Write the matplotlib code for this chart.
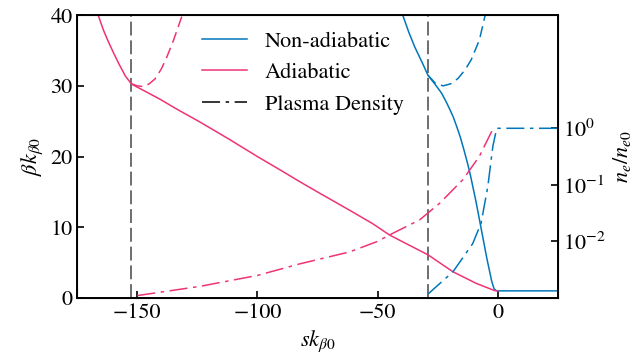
import matplotlib
matplotlib.use("Agg")
import matplotlib.pyplot as plt

plt.rcParams['font.family'] = ['STIXGeneral', 'DejaVu Serif']
plt.rcParams['mathtext.fontset'] = 'stix'
plt.rcParams['lines.scale_dashes'] = False

# colores
azul = '#0077BB'
rosa = '#EE3377'

# beta adiabatica (rosa, continua)
s_adiab = [-166.3, -164, -162, -159.8, -157.8, -155, -152.4, -146, -140.5, -133.5,
           -124, -112, -100, -90, -82.4, -74, -61.6, -52, -45, -37, -29, -18.6,
           -9, -4, -1.4, 0]
beta_adiab = [40, 37.8, 36.2, 34.6, 33.2, 31.4, 30.25, 29.1, 28.1, 26.7,
              24.9, 22.5, 20.0, 18.0, 16.45, 14.8, 12.4, 10.5, 8.9, 7.5, 6.1, 3.7,
              2.07, 1.4, 1.05, 1.0]

# beta en vacio tras el punto de entrada (rosa, discontinua)
s_vac_adiab = [-152.4, -150, -147.5, -145, -142.6, -140, -137.7, -135, -131.5]
beta_vac_adiab = [30.3, 30.0, 29.9, 30.3, 31.0, 32.4, 34.1, 36.4, 39.8]

# beta no adiabatica (azul, continua)
s_noad = [-39.5, -37, -34.5, -31, -29, -26, -23.4, -21.5, -20.1, -18.6, -17.2, -15.5,
          -14, -12.5, -11.3, -9, -7.2, -4.5, -2.5, -1.5, -0.7, 0, 25]
beta_noad = [40, 37.6, 35.5, 33.0, 31.5, 30.2, 29.0, 27.8, 26.8, 25.7, 24.4, 22.7,
             20.9, 19.0, 17.3, 13.6, 10.4, 5.6, 2.4, 1.3, 1.05, 1.0, 1.0]

# beta en vacio (azul, discontinua)
s_vac_noad = [-29, -26, -22.7, -19.5, -16.5, -13.5, -11, -7.6, -5.2]
beta_vac_noad = [31.5, 30.4, 30.0, 30.3, 31.05, 32.3, 33.7, 36.5, 40.0]

# densidad de plasma (eje derecho, log)
s_dens_adiab = [-150, -124, -100, -82.4, -61.7, -50, -45, -32.5, -24.2, -14.5, -7.6, -2.1, -1.5]
n_dens_adiab = [1.1e-3, 1.6e-3, 2.5e-3, 4.0e-3, 6.5e-3, 1.0e-2, 1.3e-2, 2.4e-2, 4.7e-2,
                0.123, 0.32, 0.95, 1.0]

s_dens_noad = [-29, -18.6, -10.4, -6.9, -4.1, -2.0, -0.4, 25]
n_dens_noad = [1.17e-3, 2.9e-3, 9.1e-3, 2.1e-2, 9.3e-2, 0.48, 1.0, 1.0]

# puntos de entrada
s_entrada = [-152.5, -29]

fig, ax = plt.subplots(figsize=(6.44, 3.62), dpi=100)
fig.subplots_adjust(left=0.12, right=0.866, bottom=0.177, top=0.958)

dashdot = (0, (13, 4, 2.5, 4))
discont = (0, (8, 4))

for s0 in s_entrada:
    ax.axvline(s0, color='#555555', lw=1.2, linestyle=(0, (10, 3.5)), zorder=1)

ax.plot(s_noad, beta_noad, color=azul, lw=1.1, label='Non-adiabatic')
ax.plot(s_adiab, beta_adiab, color=rosa, lw=1.1, label='Adiabatic')
ax.plot(s_vac_adiab, beta_vac_adiab, color=rosa, lw=1.1, linestyle=discont)
ax.plot(s_vac_noad, beta_vac_noad, color=azul, lw=1.1, linestyle=discont)
ax.plot([], [], color='black', lw=1.1, linestyle=dashdot, label='Plasma Density')

ax.set_xlim(-175, 25)
ax.set_ylim(0, 40)
ax.set_xticks([-150, -100, -50, 0])
ax.set_yticks([0, 10, 20, 30, 40])
ax.set_xlabel(r'$sk_{\beta 0}$', fontsize=16)
ax.set_ylabel(r'$\beta k_{\beta 0}$', fontsize=16)
ax.tick_params(direction='in', labelsize=16, width=1.2, length=5)
for sp in ax.spines.values():
    sp.set_linewidth(1.4)

ax2 = ax.twinx()
ax2.plot(s_dens_adiab, n_dens_adiab, color=rosa, lw=1.1, linestyle=dashdot)
ax2.plot(s_dens_noad, n_dens_noad, color=azul, lw=1.1, linestyle=dashdot)
ax2.set_yscale('log')
ax2.set_ylim(1e-3, 1e2)
ax2.set_yticks([1e-2, 1e-1, 1e0])
ax2.minorticks_off()
ax2.set_ylabel(r'$n_e/n_{e0}$', fontsize=16)
ax2.tick_params(direction='in', labelsize=16, width=1.2, length=5)

ax.legend(loc='upper center', frameon=False, fontsize=16, handlelength=2.0,
          labelspacing=0.5, bbox_to_anchor=(0.47, 1.015))

fig.savefig('out.png', dpi=100)
